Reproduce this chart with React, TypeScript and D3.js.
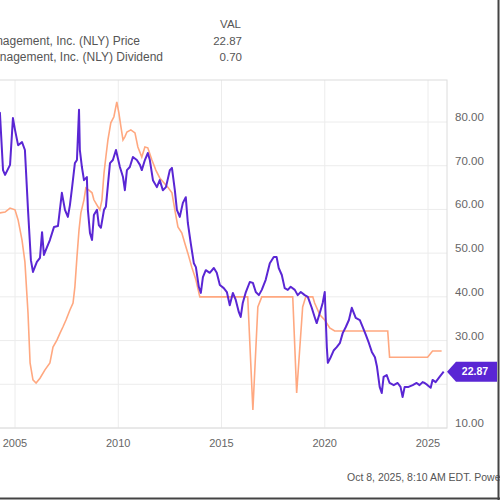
import { scaleLinear, line, curveLinear, format } from "d3";

// Price series (decimal year, USD)
const priceYears = [
  2004.08, 2004.27, 2004.42, 2004.52, 2004.76, 2004.9, 2005.0, 2005.15, 2005.34, 2005.48,
  2005.63, 2005.77, 2005.87, 2006.06, 2006.21, 2006.31, 2006.4, 2006.55, 2006.69, 2006.89,
  2007.08, 2007.27, 2007.42, 2007.56, 2007.66, 2007.76, 2007.9, 2008.0, 2008.1, 2008.14,
  2008.24, 2008.34, 2008.48, 2008.53, 2008.63, 2008.73, 2008.82, 2008.97, 2009.06, 2009.16,
  2009.31, 2009.4, 2009.5, 2009.6, 2009.74, 2009.89, 2010.08, 2010.23, 2010.32, 2010.42,
  2010.56, 2010.71, 2010.9, 2011.05, 2011.14, 2011.29, 2011.43, 2011.53, 2011.68, 2011.87,
  2012.01, 2012.16, 2012.31, 2012.5, 2012.6, 2012.74, 2012.84, 2012.98, 2013.13, 2013.27,
  2013.37, 2013.51, 2013.66, 2013.76, 2013.9, 2014.0, 2014.1, 2014.24, 2014.43, 2014.63,
  2014.77, 2014.92, 2015.11, 2015.26, 2015.4, 2015.55, 2015.69, 2015.84, 2015.93, 2016.03,
  2016.18, 2016.37, 2016.52, 2016.66, 2016.81, 2016.95, 2017.14, 2017.34, 2017.53, 2017.67,
  2017.77, 2017.92, 2018.06, 2018.21, 2018.35, 2018.55, 2018.69, 2018.84, 2019.03, 2019.18,
  2019.37, 2019.51, 2019.61, 2019.76, 2019.9, 2020.0, 2020.05, 2020.1, 2020.15, 2020.29,
  2020.44, 2020.58, 2020.73, 2020.87, 2021.02, 2021.17, 2021.31, 2021.41, 2021.5, 2021.7,
  2021.84, 2021.99, 2022.14, 2022.28, 2022.43, 2022.53, 2022.66, 2022.76, 2022.85, 2023.0,
  2023.14, 2023.34, 2023.53, 2023.67, 2023.77, 2023.87, 2024.06, 2024.26, 2024.45, 2024.59,
  2024.74, 2024.84, 2024.98, 2025.13, 2025.22, 2025.37, 2025.56, 2025.76,
];
const priceValues = [
  80.5, 82.1, 69.0, 67.9, 70.2, 80.9, 78.2, 74.7, 75.4, 73.6,
  59.9, 48.4, 45.7, 48.0, 48.9, 54.8, 49.6, 51.4, 53.0, 56.0,
  56.2, 63.8, 59.9, 58.3, 61.0, 64.9, 70.6, 71.3, 82.8, 73.6,
  69.7, 66.7, 67.4, 59.9, 54.6, 53.0, 58.7, 59.9, 56.4, 55.8,
  59.9, 60.6, 65.6, 70.6, 71.3, 73.6, 69.7, 67.4, 64.4, 69.0,
  69.7, 72.0, 71.3, 70.2, 69.0, 71.3, 72.9, 71.3, 66.7, 65.1,
  66.7, 64.4, 65.1, 69.0, 69.5, 64.4, 59.9, 58.3, 61.5, 62.8,
  56.9, 52.3, 47.7, 46.8, 42.3, 40.9, 44.5, 46.1, 45.5, 46.6,
  45.5, 42.7, 42.0, 41.1, 38.1, 40.9, 39.3, 36.5, 35.4, 38.6,
  41.1, 43.4, 43.2, 41.1, 40.4, 41.6, 43.9, 47.7, 49.1, 49.1,
  46.6, 45.0, 42.0, 41.6, 42.3, 41.6, 40.4, 41.1, 40.4, 40.0,
  37.5, 35.4, 34.0, 36.3, 38.6, 41.1, 34.7, 28.5, 24.9, 26.2,
  27.8, 28.5, 29.4, 31.7, 33.1, 34.7, 37.5, 36.3, 35.2, 34.7,
  33.1, 31.3, 29.4, 27.4, 26.2, 24.0, 19.4, 18.0, 21.7, 22.1,
  20.3, 19.8, 20.3, 19.4, 17.1, 19.4, 19.4, 19.8, 20.3, 19.8,
  20.5, 20.3, 19.8, 19.2, 21.0, 20.5, 21.7, 22.87,
];

// Dividend series, plotted on the price axis
const dividendYears = [
  2004.08, 2004.27, 2004.52, 2004.76, 2005.0, 2005.15, 2005.34, 2005.48, 2005.63, 2005.73,
  2005.87, 2006.02, 2006.21, 2006.45, 2006.69, 2006.84, 2007.03, 2007.18, 2007.32, 2007.47,
  2007.66, 2007.81, 2007.9, 2008.0, 2008.1, 2008.19, 2008.34, 2008.43, 2008.58, 2008.73,
  2008.82, 2008.97, 2009.11, 2009.21, 2009.31, 2009.4, 2009.5, 2009.64, 2009.79, 2009.93,
  2010.03, 2010.13, 2010.23, 2010.32, 2010.42, 2010.61, 2010.81, 2010.95, 2011.14, 2011.29,
  2011.43, 2011.63, 2011.82, 2012.01, 2012.21, 2012.4, 2012.6, 2012.74, 2012.89, 2013.08,
  2013.22, 2013.37, 2013.56, 2013.76, 2013.95, 2016.27, 2016.52, 2016.76, 2016.95, 2018.45,
  2018.64, 2018.93, 2019.08, 2019.42, 2019.51, 2019.76, 2020.0, 2020.24, 2020.48, 2023.05,
  2023.14, 2024.98, 2025.22, 2025.66,
];
const dividendValues = [
  59.0, 59.2, 59.4, 60.3, 59.9, 57.6, 53.0, 48.0, 36.3, 24.9,
  21.0, 20.3, 21.4, 23.3, 24.9, 28.5, 30.1, 31.7, 33.1, 34.7,
  37.0, 38.6, 42.3, 49.1, 55.3, 59.2, 62.2, 64.9, 64.4, 63.8,
  62.2, 61.0, 59.9, 62.2, 68.3, 72.0, 75.9, 79.8, 81.2, 84.6,
  82.1, 78.9, 75.9, 76.6, 77.7, 78.2, 77.5, 74.3, 72.0, 74.3,
  74.1, 71.3, 69.0, 67.2, 66.1, 65.1, 63.8, 59.9, 56.0, 54.6,
  52.3, 50.0, 46.8, 43.9, 40.0, 40.0, 14.1, 37.7, 40.0, 40.0,
  18.0, 37.7, 40.0, 40.0, 38.6, 35.9, 34.7, 32.9, 32.2, 32.2,
  26.2, 26.2, 27.6, 27.6,
];

const yearTicks = [2005, 2010, 2015, 2020, 2025];
const valueTicks = [10, 20, 30, 40, 50, 60, 70, 80];
const priceLabel = "22.87";
const dividendLabel = "0.70";

const FONT = "'Liberation Sans', Arial, sans-serif";

export default function App() {
  // Scales
  const x = scaleLinear().domain([2005, 2025]).range([15, 428]);
  const y = scaleLinear().domain([10, 80]).range([428, 122]);

  const plotLeft = -10;
  const plotRight = 447;
  const plotTop = 80;
  const plotBottom = 428;

  const priceData = priceYears.map((yr, i) => ({ yr, v: priceValues[i] }));
  const divData = dividendYears.map((yr, i) => ({ yr, v: dividendValues[i] }));

  const pathGen = line<{ yr: number; v: number }>()
    .x((d) => x(d.yr))
    .y((d) => y(d.v))
    .curve(curveLinear);

  const fmt = format(".2f");
  const last = priceData[priceData.length - 1];
  const by = y(last.v);

  return (
    <svg
      width={500}
      height={500}
      style={{ position: "absolute", top: 0, left: 0, background: "#fff" }}
      fontFamily={FONT}
    >
      <defs>
        <clipPath id="plot">
          <rect x={0} y={plotTop} width={plotRight} height={plotBottom - plotTop} />
        </clipPath>
      </defs>

      {/* Header legend (left part is cropped in the original) */}
      <text x={241} y={28} fontSize={11.5} fill="#555" textAnchor="end">VAL</text>
      <text x={140} y={45} fontSize={12} fill="#555" textAnchor="end">
        Annaly Capital Management, Inc. (NLY) Price
      </text>
      <text x={242} y={45} fontSize={11.5} fill="#555" textAnchor="end">{priceLabel}</text>
      <text x={163} y={61} fontSize={12} fill="#555" textAnchor="end">
        Annaly Capital Management, Inc. (NLY) Dividend
      </text>
      <text x={242} y={61} fontSize={11.5} fill="#555" textAnchor="end">{dividendLabel}</text>

      {/* Grid */}
      {valueTicks.map((t) => (
        <line key={"h" + t} x1={plotLeft} x2={plotRight} y1={y(t)} y2={y(t)} stroke="#ececec" />
      ))}
      {yearTicks.map((t) => (
        <line key={"v" + t} x1={x(t)} x2={x(t)} y1={plotTop} y2={plotBottom} stroke="#ececec" />
      ))}
      <rect
        x={plotLeft}
        y={plotTop}
        width={plotRight - plotLeft}
        height={plotBottom - plotTop}
        fill="none"
        stroke="#dcdcdc"
      />

      {/* Series */}
      <g clipPath="url(#plot)">
        <path d={pathGen(divData) ?? ""} fill="none" stroke="#ffa880" strokeWidth={1.6} />
        <path d={pathGen(priceData) ?? ""} fill="none" stroke="#5a26d4" strokeWidth={2} strokeLinejoin="round" />
      </g>

      {/* Y axis labels */}
      {valueTicks.map((t) =>
        t === 20 ? null : (
          <text key={"yl" + t} x={455} y={y(t) - 4} fontSize={11.5} fill="#666" dominantBaseline="middle">
            {fmt(t)}
          </text>
        )
      )}

      {/* X axis labels */}
      {yearTicks.map((t) => (
        <text key={"xl" + t} x={x(t)} y={447} fontSize={11} fill="#666" textAnchor="middle">
          {t}
        </text>
      ))}

      {/* Last value badge */}
      <path
        d={`M${plotRight},${by} L${plotRight + 9},${by - 10} L497,${by - 10} L497,${by + 10} L${plotRight + 9},${by + 10} Z`}
        fill="#5a26d4"
      />
      <text x={475} y={by} fontSize={10.5} fontWeight="bold" fill="#fff" textAnchor="middle" dominantBaseline="middle">
        {priceLabel}
      </text>

      {/* Footer (cut by the frame in the original) */}
      <text x={347} y={481} fontSize={10.5} fill="#555">
        Oct 8, 2025, 8:10 AM EDT. Powered by YCHARTS
      </text>

      {/* Outer frame edges */}
      <line x1={498.5} x2={498.5} y1={0} y2={500} stroke="#444" strokeWidth={2} />
      <line x1={0} x2={500} y1={498.5} y2={498.5} stroke="#444" strokeWidth={2} />
    </svg>
  );
}
